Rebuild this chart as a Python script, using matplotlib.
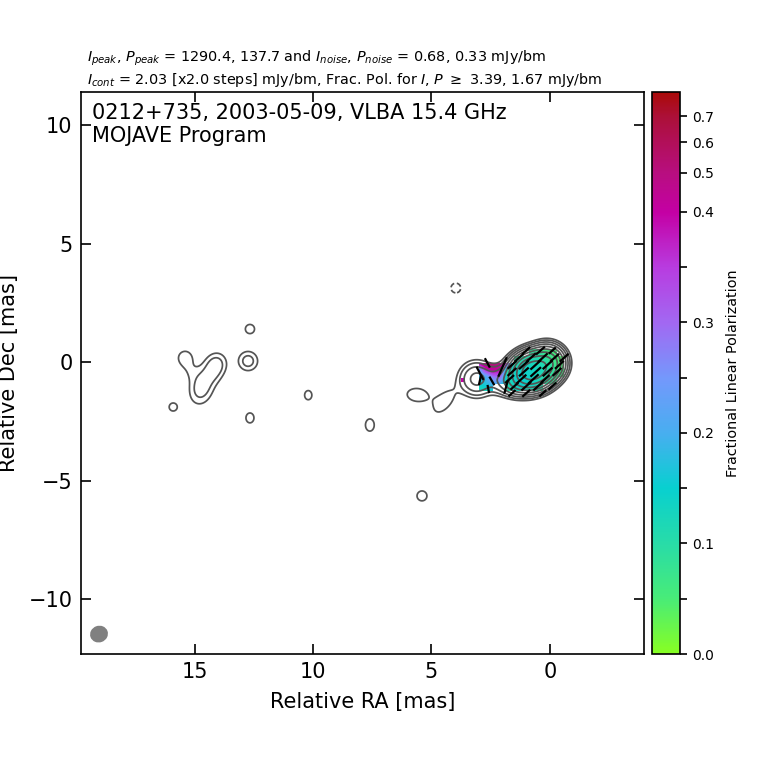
"""MOJAVE style VLBA map of 0212+735: Stokes I contours, frac. pol. colours and EVPA sticks."""

import matplotlib
matplotlib.use("Agg")
import matplotlib.pyplot as plt
import numpy as np
from matplotlib.cm import ScalarMappable
from matplotlib.colors import FuncNorm, LinearSegmentedColormap
from matplotlib.patches import Ellipse

# Stokes I model: ra, dec [mas], flux [mJy/bm], sigma major, sigma minor [mas], tilt [deg]
comp_ra = [0.72, 0.1, 1.45, 3.1, 2.2, 4.45, 5.6,
           14.7, 14.1, 14.3, 15.4, 15.2,
           12.66, 12.74, 12.66, 15.9, 10.2, 7.6, 5.4]
comp_dec = [-0.35, 0.0, -0.85, -0.7, -0.7, -1.65, -1.37,
            -1.05, -0.1, -0.55, 0.2, -0.4,
            1.41, 0.06, -2.34, -1.88, -1.38, -2.64, -5.63]
comp_flux = [900.0, 200.0, 40.0, 20.0, 9.0, 2.9, 2.9,
             6.0, 5.8, 2.2, 3.0, 1.5,
             2.8, 5.5, 2.8, 2.8, 2.8, 2.8, 2.8]
comp_smaj = [0.43, 0.33, 0.38, 0.38, 0.34, 0.6, 0.5,
             0.48, 0.34, 0.3, 0.3, 0.3,
             0.24, 0.285, 0.26, 0.21, 0.24, 0.32, 0.26]
comp_smin = [0.34, 0.33, 0.28, 0.38, 0.34, 0.3, 0.32,
             0.33, 0.3, 0.3, 0.3, 0.3,
             0.24, 0.285, 0.21, 0.21, 0.19, 0.23, 0.26]
comp_tilt = [20, 0, 0, 0, 0, 50, -5,
             75, 70, 0, 0, 0,
             0, 0, 90, 0, 90, 90, 0]

neg_ra = [3.97]
neg_dec = [3.14]
neg_flux = [-2.7]

# fractional polarization, rows run north to south, columns east to west
pol_ra = [3.6, 3.3, 3.0, 2.7, 2.4, 2.1, 1.8, 1.5, 1.2, 0.9, 0.6, 0.3, 0.0, -0.3, -0.6, -0.9]
pol_dec = [0.9, 0.6, 0.3, 0.0, -0.3, -0.6, -0.9, -1.2, -1.5]
nan = np.nan
frac_pol = [
    [nan, nan, nan, nan, nan, nan, nan, nan, nan, nan, nan, nan, nan, nan, nan, nan],
    [nan, nan, nan, nan, nan, nan, nan, nan, nan, 0.08, 0.07, 0.06, 0.05, 0.05, nan, nan],
    [nan, nan, nan, nan, nan, nan, nan, 0.08, 0.09, 0.10, 0.11, 0.09, 0.07, 0.05, 0.04, nan],
    [nan, nan, 0.40, 0.50, 0.55, 0.48, 0.35, 0.09, 0.12, 0.13, 0.12, 0.11, 0.09, 0.06, 0.04, nan],
    [nan, nan, 0.22, 0.36, 0.42, 0.40, 0.09, 0.13, 0.14, 0.14, 0.13, 0.12, 0.10, 0.07, 0.05, nan],
    [nan, nan, 0.18, 0.20, 0.28, 0.30, 0.11, 0.14, 0.15, 0.14, 0.13, 0.11, 0.09, 0.07, 0.05, nan],
    [nan, nan, 0.14, 0.17, 0.20, 0.20, 0.11, 0.14, 0.15, 0.14, 0.13, 0.10, 0.08, 0.06, nan, nan],
    [nan, nan, 0.12, 0.12, 0.16, nan, 0.10, 0.12, 0.13, 0.11, 0.10, 0.08, nan, nan, nan, nan],
    [nan, nan, nan, nan, nan, nan, nan, nan, nan, nan, nan, nan, nan, nan, nan, nan],
]

# lone polarized pixel east of the knot
spot_ra = [3.67]
spot_dec = [-0.74]
spot_pol = [0.4]

# EVPA sticks: centre [mas], length [mas], position angle [deg]
stick_ra = [1.0, 0.4, -0.1,
            1.3, 0.8, 0.3, -0.2, -0.6,
            1.6, 1.1, 0.6, 0.1, -0.4,
            1.6, 1.1, 0.6, 0.1, -0.3,
            1.7, 1.2, 0.7, 0.2,
            1.5, 1.0, 0.5, -0.1,
            1.6, 1.0, 0.3,
            2.0, 1.85, 2.95, 2.64, 2.95, 2.6, 2.45]
stick_dec = [0.5, 0.5, 0.5,
             0.2, 0.2, 0.2, 0.2, 0.2,
             -0.1, -0.1, -0.1, -0.1, -0.1,
             -0.4, -0.4, -0.4, -0.4, -0.4,
             -0.7, -0.7, -0.7, -0.7,
             -1.0, -1.0, -1.0, -1.0,
             -1.3, -1.3, -1.3,
             -0.19, -1.03, -0.46, -0.02, -0.74, -1.12, -0.78]
stick_len = [0.45, 0.5, 0.4,
             0.5, 0.55, 0.55, 0.5, 0.5,
             0.5, 0.55, 0.6, 0.55, 0.5,
             0.5, 0.55, 0.6, 0.55, 0.5,
             0.5, 0.55, 0.6, 0.5,
             0.45, 0.55, 0.55, 0.45,
             0.4, 0.45, 0.4,
             0.9, 0.6, 0.63, 0.45, 0.44, 0.35, 0.42]
stick_pa = [-48] * 29 + [-24, -15, 28, 28, -13, 11, 30]

# colour bar: non linear above 0.4
cbar_vals = [0.0, 0.4, 0.5, 0.6, 0.7, 0.8]
cbar_frac = [0.0, 0.7865, 0.856, 0.911, 0.957, 1.0]
cbar_ticks = [0.0, 0.05, 0.1, 0.15, 0.2, 0.25, 0.3, 0.35, 0.4, 0.5, 0.6, 0.7]
cbar_labels = ["0.0", "", "0.1", "", "0.2", "", "0.3", "", "0.4", "0.5", "0.6", "0.7"]
cmap_vals = [0.0, 0.05, 0.1, 0.15, 0.2, 0.25, 0.3, 0.35, 0.4, 0.5, 0.7, 0.8]
cmap_cols = ["#88ff22", "#48ec78", "#28dca8", "#08d0d0", "#48aef0", "#7498fc",
             "#a268f2", "#b83ce0", "#c400a4", "#b80e80", "#ac1038", "#aa0a08"]

base_level = 2.03
n_levels = 10


def forward(v):
    return np.interp(v, cbar_vals, cbar_frac)


def inverse(f):
    return np.interp(f, cbar_frac, cbar_vals)


def gauss(xx, yy, ra0, dec0, flux, smaj, smin, tilt):
    t = np.radians(tilt)
    # tilt counts from image right, counter clockwise; RA grows to the left
    u = -(xx - ra0) * np.cos(t) + (yy - dec0) * np.sin(t)
    v = (xx - ra0) * np.sin(t) + (yy - dec0) * np.cos(t)
    return flux * np.exp(-0.5 * (u / smaj) ** 2 - 0.5 * (v / smin) ** 2)


norm = FuncNorm((forward, inverse), vmin=0.0, vmax=0.8)
positions = [float(forward(v)) for v in cmap_vals]
positions[-1] = 1.0
cmap = LinearSegmentedColormap.from_list("fracpol", list(zip(positions, cmap_cols)), N=512)

fig = plt.figure(figsize=(7.6, 7.6), dpi=100)
ax = fig.add_axes([81 / 760, 106 / 760, 563 / 760, 562 / 760])

ra = np.arange(-4.0, 20.0, 0.03)
dec = np.arange(-12.5, 11.6, 0.03)
xx, yy = np.meshgrid(ra, dec)
image = np.zeros_like(xx)
for c in zip(comp_ra, comp_dec, comp_flux, comp_smaj, comp_smin, comp_tilt):
    image += gauss(xx, yy, *c)
for r0, d0, f0 in zip(neg_ra, neg_dec, neg_flux):
    image += gauss(xx, yy, r0, d0, f0, 0.27, 0.27, 0)

step = 0.15
pol_extent = [pol_ra[0] + step, pol_ra[-1] - step, pol_dec[-1] - step, pol_dec[0] + step]
ax.imshow(np.ma.masked_invalid(frac_pol), cmap=cmap, norm=norm, extent=pol_extent,
          origin="upper", interpolation="bilinear", aspect="auto", zorder=1)
ax.scatter(spot_ra, spot_dec, c=spot_pol, cmap=cmap, norm=norm, marker="s", s=9, lw=0, zorder=1)

levels = [-base_level] + [base_level * 2 ** i for i in range(n_levels)]
ax.contour(xx, yy, image, levels=levels, colors="#555555", linewidths=1.25,
           negative_linestyles=(0, (3, 1.5)), zorder=2)

for r0, d0, ln, pa in zip(stick_ra, stick_dec, stick_len, stick_pa):
    dx = 0.5 * ln * np.sin(np.radians(pa))
    dy = 0.5 * ln * np.cos(np.radians(pa))
    ax.plot([r0 - dx, r0 + dx], [d0 - dy, d0 + dy], color="black", lw=1.6,
            solid_capstyle="butt", zorder=3)

ax.add_patch(Ellipse((19.03, -11.46), 0.76, 0.7, angle=-20, color="gray", lw=0, zorder=4))

ax.set_xlim(19.79, -3.97)
ax.set_ylim(-12.3, 11.41)
ax.set_xticks([15, 10, 5, 0])
ax.set_yticks([-10, -5, 0, 5, 10])
ax.set_yticklabels(["\u221210", "\u22125", "0", "5", "10"])
ax.tick_params(direction="in", length=7, width=1.2, top=True, right=True, labelsize=15, pad=6)
for s in ax.spines.values():
    s.set_linewidth(1.2)
ax.set_xlabel("Relative RA [mas]", fontsize=15, labelpad=7)
ax.set_ylabel("Relative Dec [mas]", fontsize=15, labelpad=7)

ax.text(0.02, 0.981, "0212+735, 2003-05-09, VLBA 15.4 GHz\nMOJAVE Program", transform=ax.transAxes,
        fontsize=15, va="top", ha="left", linespacing=1.2)

fig.text(87 / 760, 1 - 58 / 760,
         r"$I_{peak}$, $P_{peak}$ = 1290.4, 137.7 and $I_{noise}$, $P_{noise}$ = 0.68, 0.33 mJy/bm",
         fontsize=10.4, va="center")
fig.text(87 / 760, 1 - 80 / 760,
         r"$I_{cont}$ = 2.03 [x2.0 steps] mJy/bm, Frac. Pol. for $I$, $P$ $\geq$ 3.39, 1.67 mJy/bm",
         fontsize=10.4, va="center")

cax = fig.add_axes([652 / 760, 106 / 760, 28 / 760, 562 / 760])
cb = fig.colorbar(ScalarMappable(norm=norm, cmap=cmap), cax=cax, ticks=cbar_ticks)
cb.ax.minorticks_off()
cb.ax.set_yticklabels(cbar_labels)
cb.ax.tick_params(length=5, width=1.2, labelsize=10, direction="out")
cb.outline.set_linewidth(1.2)
cb.set_label("Fractional Linear Polarization", fontsize=10.4, labelpad=9)

fig.savefig("out.png", dpi=100)
plt.close(fig)
